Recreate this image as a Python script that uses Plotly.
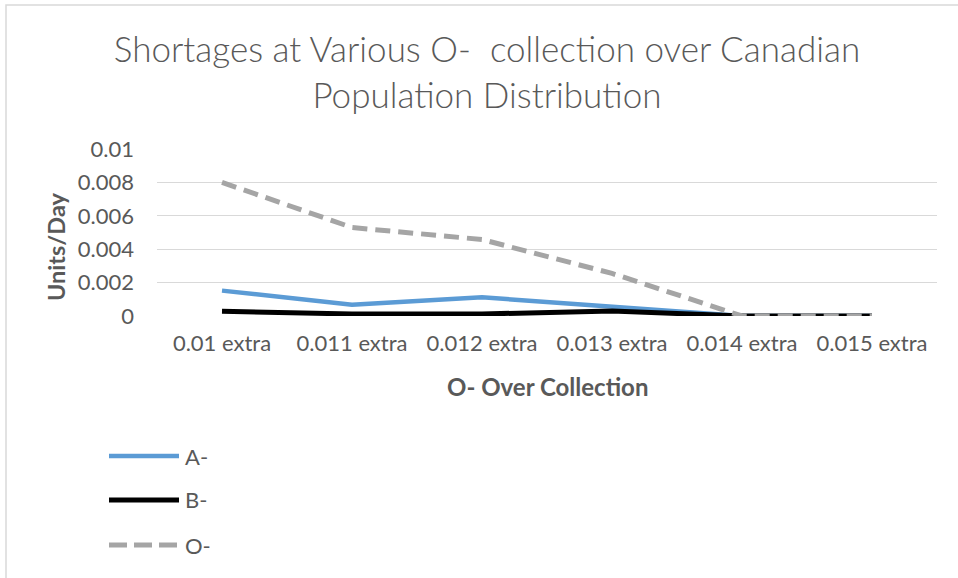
import plotly.graph_objects as go

# Data
categories = ["0.01 extra", "0.011 extra", "0.012 extra", "0.013 extra", "0.014 extra", "0.015 extra"]
a_neg = [0.00152, 0.00068, 0.00112, 0.00058, 0.0, 0.0]
b_neg = [0.00028, 0.00012, 0.00012, 0.00030, 0.0, 0.0]
o_neg = [0.00800, 0.00530, 0.00458, 0.00255, 0.0, 0.0]
series_names = ["A-", "B-", "O-"]
y_ticks = [0, 0.002, 0.004, 0.006, 0.008, 0.01]
y_tick_text = ["0", "0.002", "0.004", "0.006", "0.008", "0.01"]

# Styling
W, H = 958, 578
L, R, T, B = 157, 21, 149, 262
PW, PH = W - L - R, H - T - B
FONT = "Lato"
TEXT = "#595959"
GRID = "#D9D9D9"
colors = ["#5B9BD5", "#000000", "#A5A5A5"]
widths = [4.5, 5, 5]
dashes = ["solid", "solid", "15px,8px"]


def px_x(px):
    return (px - L) / PW


def px_y(py):
    return (H - B - py) / PH


fig = go.Figure()
for name, vals, c, w, d in zip(series_names, [a_neg, b_neg, o_neg], colors, widths, dashes):
    fig.add_trace(go.Scatter(
        x=categories, y=vals, mode="lines", name=name,
        line=dict(color=c, width=w, dash=d),
        showlegend=False, hoverinfo="x+y+name",
    ))

shapes = [
    # chart frame
    dict(type="rect", xref="paper", yref="paper",
         x0=px_x(6), x1=px_x(975), y0=px_y(5), y1=px_y(600),
         line=dict(color=GRID, width=1.5), fillcolor="rgba(0,0,0,0)", layer="below"),
]
annotations = [
    # axis titles
    dict(text="<b>Units/Day</b>", xref="paper", yref="paper",
         x=px_x(56), y=px_y(247), xanchor="center", yanchor="middle", textangle=-90,
         showarrow=False, font=dict(family=FONT, size=23.5, color=TEXT)),
    dict(text="<b>O- Over Collection</b>", xref="paper", yref="paper",
         x=px_x(547), y=px_y(386), xanchor="center", yanchor="middle",
         showarrow=False, font=dict(family=FONT, size=24, color=TEXT)),
]

# Legend entries below the plot
legend_rows = [456, 500, 545]
for name, c, w, d, py in zip(series_names, colors, widths, dashes, legend_rows):
    shapes.append(dict(type="line", xref="paper", yref="paper",
                       x0=px_x(109), x1=px_x(179), y0=px_y(py), y1=px_y(py),
                       line=dict(color=c, width=w, dash="18px,7px" if d != "solid" else "solid")))
    annotations.append(dict(text=name, xref="paper", yref="paper",
                            x=px_x(183), y=px_y(py), xanchor="left", yanchor="middle",
                            showarrow=False, font=dict(family=FONT, size=22, color=TEXT)))

fig.update_layout(
    width=W, height=H,
    margin=dict(l=L, r=R, t=T, b=B),
    paper_bgcolor="white", plot_bgcolor="white",
    title=dict(
        text="Shortages at Various O-&nbsp; collection over Canadian<br>Population Distribution",
        x=487 / W, xanchor="center", y=1 - 62 / H, yanchor="middle",
        font=dict(family=FONT, size=35, color=TEXT, weight=300),
    ),
    xaxis=dict(
        type="category", range=[-0.5, 5.5],
        showgrid=False, showline=False, zeroline=False, ticks="", ticklabelstandoff=12,
        tickfont=dict(family=FONT, size=22, color=TEXT),
    ),
    yaxis=dict(
        range=[0, 0.01], tickvals=y_ticks, ticktext=y_tick_text,
        showgrid=True, gridcolor=GRID, gridwidth=1.3,
        zeroline=False, showline=False, ticks="", ticklabelstandoff=22,
        tickfont=dict(family=FONT, size=22, color=TEXT),
    ),
    shapes=shapes,
    annotations=annotations,
)

fig.write_html("out.html")
